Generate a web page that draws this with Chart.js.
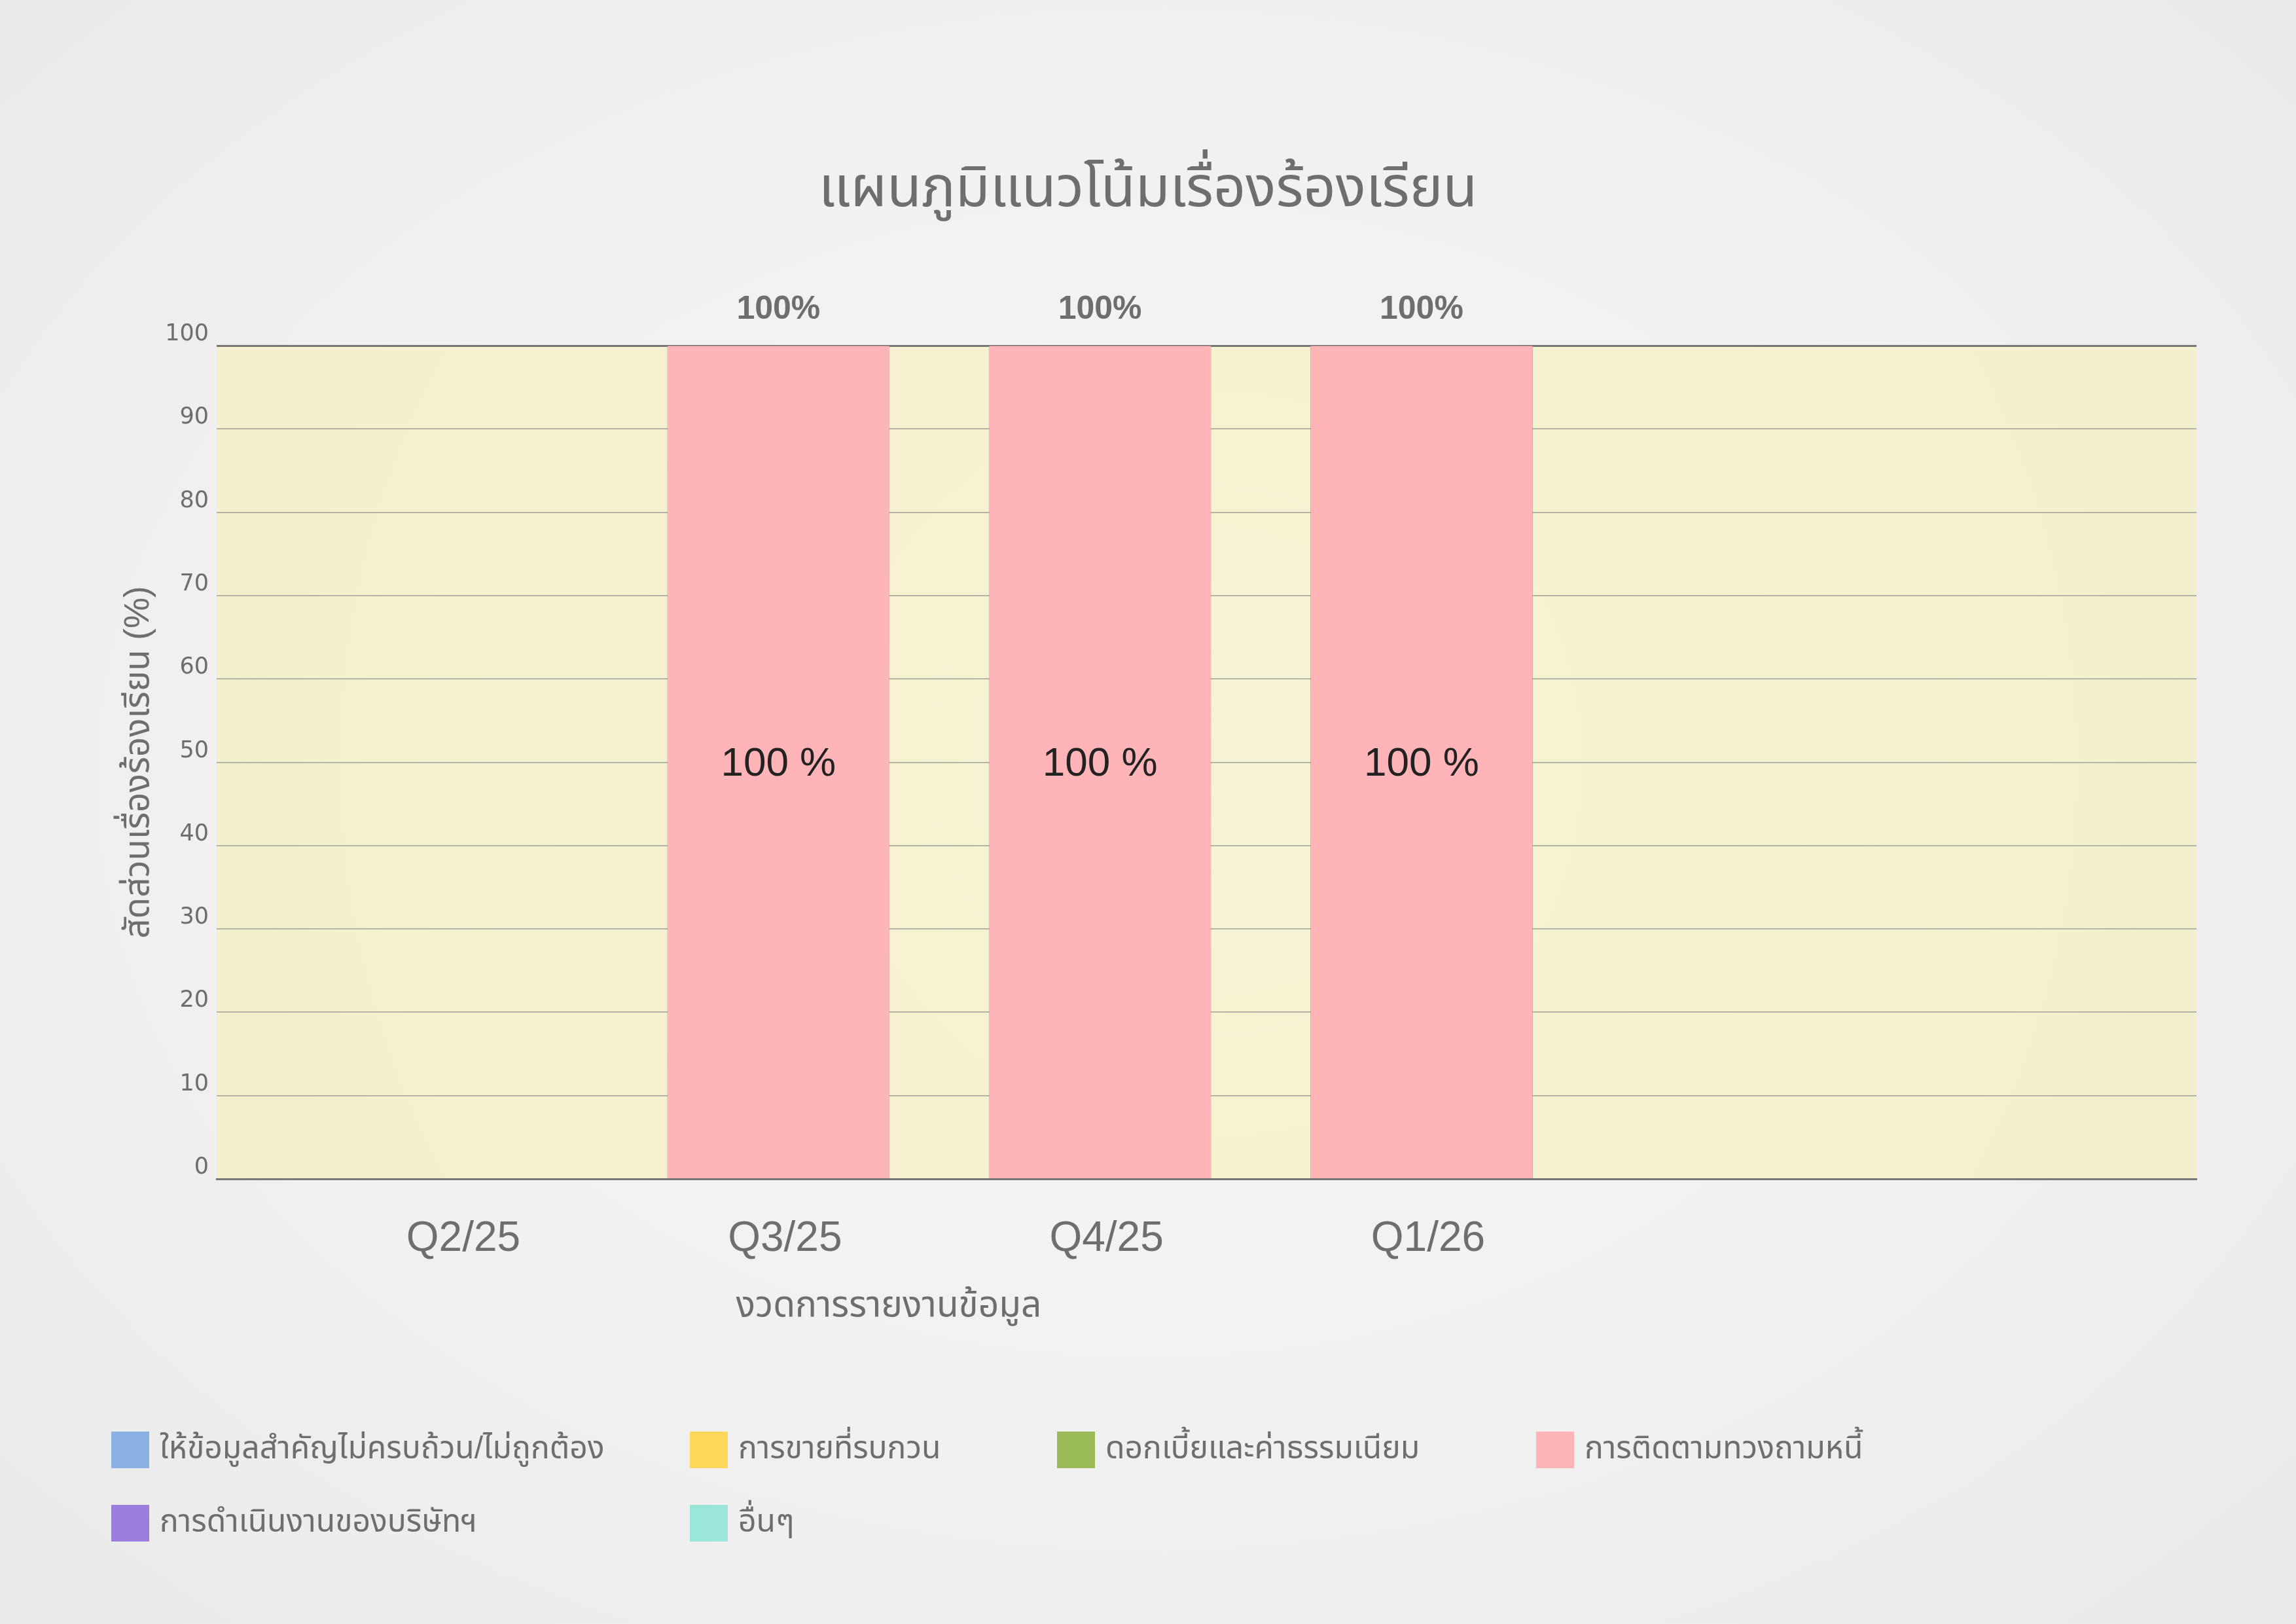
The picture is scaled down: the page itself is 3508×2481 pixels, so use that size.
<!DOCTYPE html>
<html>
<head>
<meta charset="utf-8">
<script src="https://cdn.jsdelivr.net/npm/chart.js@4.4.1/dist/chart.umd.min.js"></script>
<style>
    html, body {
        margin: 0;
        padding: 0;
    }
    body {
        width: 3508px;
        height: 2481px;
        background: radial-gradient(ellipse at 50% 48%, #f5f5f5 0%, #f1f1f1 55%, #eaeaea 100%);
        overflow: hidden;
    }
    #wrap {
        position: relative;
        width: 3508px;
        height: 2481px;
    }
</style>
</head>
<body>
<div id="wrap"><canvas id="complaintChart"></canvas></div>
<script>
// Data
const periods = ['Q2/25', 'Q3/25', 'Q4/25', 'Q1/26'];
const categoryNames = [
    'ให้ข้อมูลสำคัญไม่ครบถ้วน/ไม่ถูกต้อง',
    'การขายที่รบกวน',
    'ดอกเบี้ยและค่าธรรมเนียม',
    'การติดตามทวงถามหนี้',
    'การดำเนินงานของบริษัทฯ',
    'อื่นๆ'
];
const categoryColors = ['#8ab0e4', '#ffd75a', '#9bbb59', '#ffb4b8', '#9b7ddb', '#9ae6d9'];
const misinformation = [0, 0, 0, 0];
const disruptiveSales = [0, 0, 0, 0];
const interestFees = [0, 0, 0, 0];
const debtCollection = [0, 100, 100, 100];
const companyOperations = [0, 0, 0, 0];
const others = [0, 0, 0, 0];
const yTickValues = [0, 10, 20, 30, 40, 50, 60, 70, 80, 90, 100];

const seriesValues = [misinformation, disruptiveSales, interestFees, debtCollection, companyOperations, others];

const FONT = "'Liberation Sans', 'Noto Sans Thai', 'Noto Sans', sans-serif";
const GREY = '#6e6e70';

// Plot background (pale yellow)
const plotBackground = {
    id: 'plotBackground',
    beforeDraw(chart) {
        const {ctx, chartArea: a} = chart;
        const cx = (a.left + a.right) / 2, cy = (a.top + a.bottom) / 2;
        const g = ctx.createRadialGradient(cx, cy, 0, cx, cy, (a.right - a.left) / 2);
        g.addColorStop(0, '#f7f4d6');
        g.addColorStop(1, '#f3f0cd');
        ctx.save();
        ctx.fillStyle = g;
        ctx.fillRect(a.left, a.top, a.right - a.left, a.bottom - a.top);
        ctx.restore();
    }
};

// Title, value labels, x-axis title and legend grid
const chartExtras = {
    id: 'chartExtras',
    afterDraw(chart) {
        const {ctx} = chart;
        const yScale = chart.scales.y;
        ctx.save();

        // chart title, centred on the page
        ctx.textAlign = 'center';
        ctx.textBaseline = 'middle';
        ctx.font = '86px ' + FONT;
        ctx.fillStyle = GREY;
        ctx.fillText('แผนภูมิแนวโน้มเรื่องร้องเรียน', chart.width / 2, 291);

        // inside-bar labels
        ctx.font = '62px ' + FONT;
        ctx.fillStyle = '#222222';
        chart.data.datasets.forEach((ds, di) => {
            chart.getDatasetMeta(di).data.forEach((bar, i) => {
                const v = seriesValues[di][i];
                if (v > 0) {
                    ctx.fillText(v + ' %', bar.x, (bar.y + bar.base) / 2 + 4);
                }
            });
        });

        // totals above the bars
        ctx.font = 'bold 50px ' + FONT;
        ctx.fillStyle = GREY;
        periods.forEach((p, i) => {
            const total = seriesValues.reduce((s, arr) => s + arr[i], 0);
            if (total > 0) {
                const bar = chart.getDatasetMeta(0).data[i];
                ctx.fillText(total + '%', bar.x, yScale.getPixelForValue(total) - 55);
            }
        });

        // x-axis title
        ctx.font = '55px ' + FONT;
        ctx.fillStyle = GREY;
        ctx.fillText('งวดการรายงานข้อมูล', 1358, 1996);

        // legend
        const colX = [170, 1054, 1615, 2347];
        const rowY = [2215, 2327];
        ctx.textAlign = 'left';
        ctx.font = '48px ' + FONT;
        categoryNames.forEach((name, i) => {
            const x = colX[i % 4];
            const y = rowY[Math.floor(i / 4)];
            ctx.fillStyle = categoryColors[i];
            ctx.fillRect(x, y - 28, 58, 56);
            ctx.fillStyle = GREY;
            ctx.fillText(name, x + 74, y);
        });
        ctx.restore();
    }
};

function initComplaintChart() {
    const datasets = categoryNames.map((name, di) => ({
        label: name,
        data: seriesValues[di].map((v, i) => ({x: i + 1, y: v})),
        backgroundColor: categoryColors[di],
        borderColor: 'rgba(205, 140, 140, 0.7)',
        borderWidth: seriesValues[di].some(v => v > 0) ? 1 : 0,
        categoryPercentage: 1,
        barPercentage: 0.692
    }));

    return new Chart(document.getElementById('complaintChart'), {
        type: 'bar',
        data: {datasets: datasets},
        options: {
            responsive: true,
            maintainAspectRatio: false,
            animation: false,
            devicePixelRatio: 1,
            layout: {
                padding: {top: 528, left: 0, right: 152, bottom: 420}
            },
            scales: {
                x: {
                    type: 'linear',
                    stacked: true,
                    min: 0.253,
                    max: 6.41,
                    offset: false,
                    afterBuildTicks: function(scale) {
                        scale.ticks = periods.map((p, i) => ({value: i + 1}));
                    },
                    afterFit: function(scale) {
                        scale.height = 260;
                    },
                    grid: {display: false, drawTicks: false},
                    border: {display: true, color: '#77777a', width: 3},
                    ticks: {
                        padding: 54,
                        labelOffset: 10,
                        color: GREY,
                        autoSkip: false,
                        maxRotation: 0,
                        font: {family: FONT, size: 64},
                        callback: function(value) {
                            return periods[value - 1] || '';
                        }
                    }
                },
                y: {
                    stacked: true,
                    min: 0,
                    max: 100,
                    afterBuildTicks: function(scale) {
                        scale.ticks = yTickValues.map(v => ({value: v}));
                    },
                    afterFit: function(scale) {
                        scale.width = 331;
                    },
                    border: {display: false},
                    grid: {
                        drawTicks: false,
                        lineWidth: function(c) {
                            return c.tick && c.tick.value === 100 ? 3 : 2;
                        },
                        color: function(c) {
                            return c.tick && c.tick.value === 100 ? '#77777a' : '#b3b3a6';
                        }
                    },
                    ticks: {
                        padding: 12,
                        labelOffset: -17,
                        color: GREY,
                        font: {family: "'DejaVu Sans', sans-serif", size: 35}
                    },
                    title: {
                        display: true,
                        text: 'สัดส่วนเรื่องร้องเรียน (%)',
                        color: GREY,
                        font: {family: FONT, size: 53},
                        padding: {top: 181, bottom: 0}
                    }
                }
            },
            plugins: {
                legend: {display: false},
                tooltip: {enabled: false},
                title: {display: false}
            }
        },
        plugins: [plotBackground, chartExtras]
    });
}

document.addEventListener('DOMContentLoaded', function() {
    initComplaintChart();
});
</script>
</body>
</html>
